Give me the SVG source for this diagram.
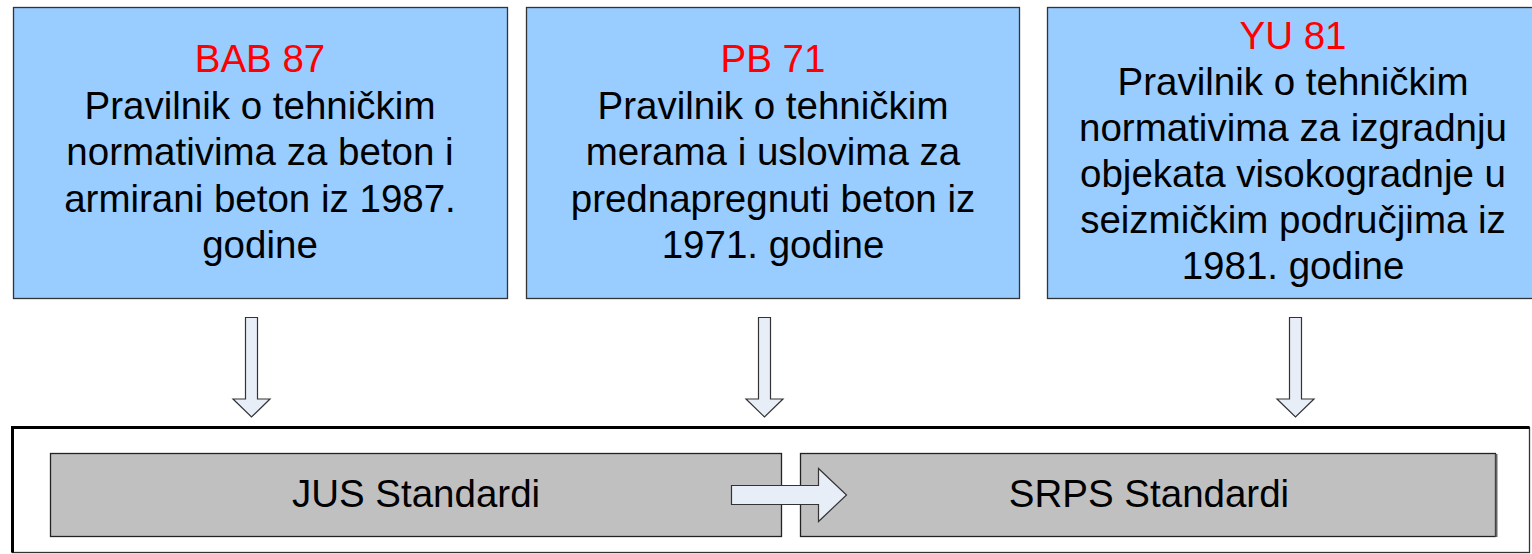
<svg xmlns="http://www.w3.org/2000/svg" width="1532" height="554" viewBox="0 0 1532 554">
<style>
.box{fill:#99ccff;stroke:#333;stroke-width:1.3}
.std{fill:#c0c0c0;stroke:#222;stroke-width:1.3}
.arr{fill:#e8eef8;stroke:#333;stroke-width:1.2;stroke-linejoin:miter}
text{font-family:"Liberation Sans",Arial,sans-serif;font-size:38.5px;text-anchor:middle;fill:#000}
.red{fill:#ff0000}
</style>
<rect width="1532" height="554" fill="#fff"/>
<g id="bab87">
<rect class="box" x="13.5" y="7.5" width="494" height="291"/>
<text x="260" y="72" class="red">BAB 87</text>
<text x="260" y="118.5">Pravilnik o tehničkim</text>
<text x="260" y="165">normativima za beton i</text>
<text x="260" y="211.5">armirani beton iz 1987.</text>
<text x="260" y="258">godine</text>
</g>
<g id="pb71">
<rect class="box" x="526.5" y="7.5" width="493" height="291"/>
<text x="773" y="72" class="red">PB 71</text>
<text x="773" y="118.5">Pravilnik o tehničkim</text>
<text x="773" y="165">merama i uslovima za</text>
<text x="773" y="211.5">prednapregnuti beton iz</text>
<text x="773" y="258">1971. godine</text>
</g>
<g id="yu81">
<rect class="box" x="1047.5" y="7.5" width="494" height="291"/>
<text x="1293" y="49" class="red">YU 81</text>
<text x="1293" y="95">Pravilnik o tehničkim</text>
<text x="1293" y="141">normativima za izgradnju</text>
<text x="1293" y="187">objekata visokogradnje u</text>
<text x="1293" y="233">seizmičkim područjima iz</text>
<text x="1293" y="279">1981. godine</text>
</g>
<g id="container">
<rect x="12.5" y="427.5" width="1517" height="125" fill="#fff" stroke="#333" stroke-width="1.3"/>
<path d="M12.5 552.5 V427.5 H1529.5" fill="none" stroke="#000" stroke-width="3"/>
</g>
<g id="jus">
<rect class="std" x="50.5" y="453.5" width="731" height="83"/>
<text x="416" y="507">JUS Standardi</text>
</g>
<g id="srps">
<rect class="std" x="800.5" y="453.5" width="695" height="83"/>
<line x1="1496.5" y1="454" x2="1496.5" y2="537" stroke="#666" stroke-width="2"/>
<text x="1149" y="507">SRPS Standardi</text>
</g>
<g id="connectors">
<path class="arr" d="M245.5 317.5 H257.5 V399 H270 L251.5 417 L233 399 H245.5 Z"/>
<path class="arr" d="M758.5 317.5 H770.5 V399 H783 L764.5 417 L746 399 H758.5 Z"/>
<path class="arr" d="M1289.5 317.5 H1301.5 V399 H1314 L1295.5 417 L1277 399 H1289.5 Z"/>
<path class="arr" d="M731.5 485.5 H818.5 V468.5 L846.5 495 L818.5 521.5 V504.5 H731.5 Z"/>
</g>
</svg>
